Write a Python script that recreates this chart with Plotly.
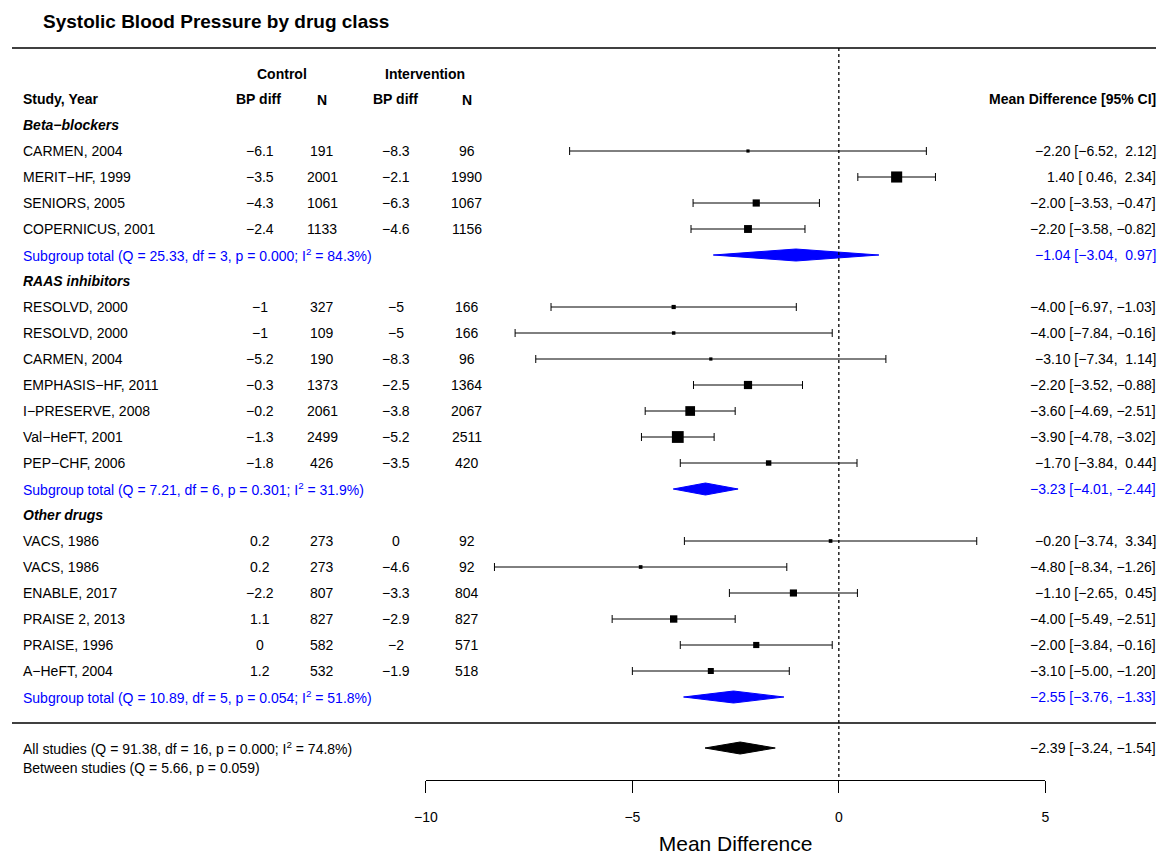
import plotly.graph_objects as go

W, H = 1160, 858
FONT = "Liberation Sans, Arial, sans-serif"

groups = ["Beta\u2212blockers", "RAAS inhibitors", "Other drugs"]
studies = [
    ["CARMEN, 2004", "MERIT\u2212HF, 1999", "SENIORS, 2005", "COPERNICUS, 2001"],
    ["RESOLVD, 2000", "RESOLVD, 2000", "CARMEN, 2004", "EMPHASIS\u2212HF, 2011",
     "I\u2212PRESERVE, 2008", "Val\u2212HeFT, 2001", "PEP\u2212CHF, 2006"],
    ["VACS, 1986", "VACS, 1986", "ENABLE, 2017", "PRAISE 2, 2013", "PRAISE, 1996", "A\u2212HeFT, 2004"],
]
ctrl_bp = [["-6.1", "-3.5", "-4.3", "-2.4"],
           ["-1", "-1", "-5.2", "-0.3", "-0.2", "-1.3", "-1.8"],
           ["0.2", "0.2", "-2.2", "1.1", "0", "1.2"]]
ctrl_n = [[191, 2001, 1061, 1133], [327, 109, 190, 1373, 2061, 2499, 426], [273, 273, 807, 827, 582, 532]]
int_bp = [["-8.3", "-2.1", "-6.3", "-4.6"],
          ["-5", "-5", "-8.3", "-2.5", "-3.8", "-5.2", "-3.5"],
          ["0", "-4.6", "-3.3", "-2.9", "-2", "-1.9"]]
int_n = [[96, 1990, 1067, 1156], [166, 166, 96, 1364, 2067, 2511, 420], [92, 92, 804, 827, 571, 518]]
md = [[-2.20, 1.40, -2.00, -2.20], [-4.00, -4.00, -3.10, -2.20, -3.60, -3.90, -1.70],
      [-0.20, -4.80, -1.10, -4.00, -2.00, -3.10]]
lo = [[-6.52, 0.46, -3.53, -3.58], [-6.97, -7.84, -7.34, -3.52, -4.69, -4.78, -3.84],
      [-3.74, -8.34, -2.65, -5.49, -3.84, -5.00]]
hi = [[2.12, 2.34, -0.47, -0.82], [-1.03, -0.16, 1.14, -0.88, -2.51, -3.02, 0.44],
      [3.34, -1.26, 0.45, -2.51, -0.16, -1.20]]
sub_text = ["Subgroup total (Q = 25.33, df = 3, p = 0.000; I<sup>2</sup> = 84.3%)",
            "Subgroup total (Q = 7.21, df = 6, p = 0.301; I<sup>2</sup> = 31.9%)",
            "Subgroup total (Q = 10.89, df = 5, p = 0.054; I<sup>2</sup> = 51.8%)"]
sub_est = [-1.04, -3.23, -2.55]
sub_lo = [-3.04, -4.01, -3.76]
sub_hi = [0.97, -2.44, -1.33]
all_est, all_lo, all_hi = -2.39, -3.24, -1.54
x_ticks = [-10, -5, 0, 5]

def m(s):
    return s.replace("-", "\u2212")

def ci(e, l, h):
    return m(f"{e:.2f} [{l:5.2f}, {h:5.2f}]")

def row_y(k):
    return 125 + 26 * k

# rendered plot area runs from about 9px to 1156px
def px(x):
    return (x - 9) / 1147

fig = go.Figure()
ann = []

def text(x, y, s, anchor="left", color="black", bold=False, italic=False, size=14):
    if bold:
        s = "<b>" + s + "</b>"
    if italic:
        s = "<i>" + s + "</i>"
    shift = {"left": -3, "right": 3, "center": 0}[anchor]
    ann.append(dict(x=px(x + shift), y=y, xref="paper", yref="y", text=s, showarrow=False,
                    xanchor=anchor, yanchor="middle", font=dict(size=size, color=color, family=FONT)))

text(41, 21, "Systolic Blood Pressure by drug class", bold=True, size=19)
text(280, 74, "Control", "center", bold=True)
text(423, 74, "Intervention", "center", bold=True)
text(21, 99, "Study, Year", bold=True)
text(256, 99, "BP diff", "center", bold=True)
text(320, 100, "N", "center", bold=True)
text(394, 99, "BP diff", "center", bold=True)
text(465, 100, "N", "center", bold=True)
text(1155, 99, "Mean Difference [95% CI]", "right", bold=True)

k = 0
for g in range(3):
    text(21, row_y(k), groups[g], bold=True, italic=True)
    k += 1
    for i in range(len(studies[g])):
        y = row_y(k)
        text(21, y, studies[g][i])
        text(258, y, m(ctrl_bp[g][i]), "center")
        text(320, y, str(ctrl_n[g][i]), "center")
        text(394, y, m(int_bp[g][i]), "center")
        text(465, y, str(int_n[g][i]), "center")
        text(1155, y, ci(md[g][i], lo[g][i], hi[g][i]), "right")
        size = max(3, 19 / (hi[g][i] - lo[g][i]) + 1)
        fig.add_trace(go.Scatter(
            x=[md[g][i]], y=[y], mode="markers", cliponaxis=False,
            marker=dict(symbol="square", size=size, color="black"),
            error_x=dict(type="data", symmetric=False, array=[hi[g][i] - md[g][i]],
                         arrayminus=[md[g][i] - lo[g][i]], color="black", thickness=1, width=4)))
        k += 1
    y = row_y(k)
    text(21, y, sub_text[g], color="blue")
    text(1155, y, ci(sub_est[g], sub_lo[g], sub_hi[g]), "right", color="blue")
    fig.add_trace(go.Scatter(x=[sub_lo[g], sub_est[g], sub_hi[g], sub_est[g], sub_lo[g]],
                             y=[y, y - 6, y, y + 6, y], fill="toself", fillcolor="blue",
                             mode="lines", line=dict(color="blue", width=1), cliponaxis=False))
    k += 1

ya = 748
text(21, ya, "All studies (Q = 91.38, df = 16, p = 0.000; I<sup>2</sup> = 74.8%)")
text(21, 768, "Between studies (Q = 5.66, p = 0.059)")
text(1155, ya, ci(all_est, all_lo, all_hi), "right")
fig.add_trace(go.Scatter(x=[all_lo, all_est, all_hi, all_est, all_lo],
                         y=[ya, ya - 6, ya, ya + 6, ya], fill="toself", fillcolor="black",
                         mode="lines", line=dict(color="black", width=1), cliponaxis=False))

shapes = [
    dict(type="line", xref="paper", yref="y", x0=px(9), x1=1, y0=48, y1=48, line=dict(color="black", width=1.3)),
    dict(type="line", xref="paper", yref="y", x0=px(9), x1=1, y0=723, y1=723, line=dict(color="black", width=1.3)),
    dict(type="line", xref="x", yref="y", x0=0, x1=0, y0=48, y1=780, line=dict(color="black", width=1.3, dash="dot")),
]

fig.update_layout(
    width=W, height=H, margin=dict(l=0, r=0, t=0, b=0),
    plot_bgcolor="white", paper_bgcolor="white", showlegend=False,
    annotations=ann, shapes=shapes,
    xaxis=dict(domain=[px(424), px(1045)], range=[-10, 5], anchor="free", position=1 - 780 / H,
               showgrid=False, zeroline=False, showline=True, linecolor="black", linewidth=1.3,
               ticks="outside", ticklen=12, tickcolor="black", tickwidth=1.3, tickvals=x_ticks,
               ticklabelstandoff=12,
               tickfont=dict(size=14, family=FONT, color="black"),
               title=dict(text="Mean Difference", font=dict(size=21, family=FONT, color="black"), standoff=12)),
    yaxis=dict(domain=[0, 1], range=[H, 0], visible=False),
)

fig.write_html("out.html", config={"displayModeBar": False},
               post_script="document.body.style.margin='0';document.body.style.overflow='hidden';")
